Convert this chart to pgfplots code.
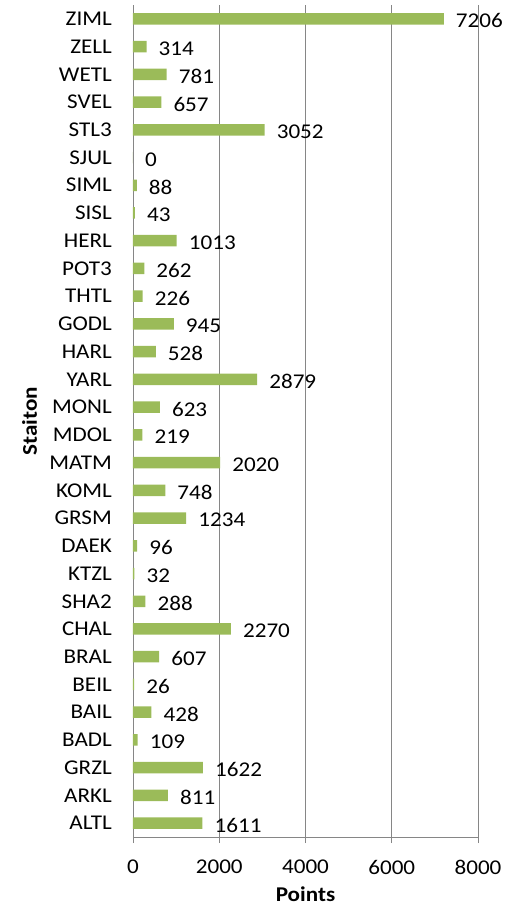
\documentclass[border=0pt]{standalone}
\usepackage{fontspec}
\setmainfont{Carlito}[FakeStretch=1.1]
\usepackage{pgfplots}
\pgfplotsset{compat=1.18}
\definecolor{barg}{HTML}{9BBB59}
\definecolor{gridg}{HTML}{868686}

\begin{document}
\begin{tikzpicture}
\begin{axis}[
  scale only axis, width=345pt, height=832pt,
  xbar, bar width=11.5pt, clip=false,
  xmin=0, xmax=8000, ymin=-0.5, ymax=29.5,
  xtick={0,2000,...,8000},
  ytick={0,...,29},
  yticklabels={ALTL,ARKL,GRZL,BADL,BAIL,BEIL,BRAL,CHAL,SHA2,KTZL,DAEK,GRSM,KOML,MATM,MDOL,MONL,YARL,HARL,GODL,THTL,POT3,HERL,SISL,SIML,SJUL,STL3,SVEL,WETL,ZELL,ZIML},
  axis lines*=left,
  axis line style={gridg, line width=0.8pt},
  xmajorgrids, major grid style={gridg, line width=0.8pt},
  xtick align=outside, major tick length=6pt,
  xtick style={gridg, line width=0.8pt},
  ytick style={draw=none},
  font=\fontsize{21}{25}\selectfont,
  tick label style={font=\fontsize{21}{25}\selectfont, text=black},
  /pgf/number format/1000 sep={},
  /pgf/number format/assume math mode=true,
  xticklabel style={anchor=north, inner sep=0pt, yshift=-17pt},
  yticklabel style={anchor=east, inner sep=0pt, xshift=-15pt},
  xlabel={\bfseries Points},
  ylabel={\bfseries Staiton},
  x label style={at={(axis description cs:0.5,-0.0775)}, anchor=base},
  y label style={at={(axis description cs:-0.2783,0.5)}, anchor=base, rotate=0},
  nodes near coords,
  every node near coord/.append style={font=\fontsize{21}{25}\selectfont, text=black, anchor=west, inner sep=0pt, xshift=12pt, yshift=-2pt},
]
\addplot[draw=none, fill=barg] coordinates {
(1611,0) (811,1) (1622,2) (109,3) (428,4) (26,5) (607,6) (2270,7) (288,8) (32,9)
(96,10) (1234,11) (748,12) (2020,13) (219,14) (623,15) (2879,16) (528,17) (945,18) (226,19)
(262,20) (1013,21) (43,22) (88,23) (0,24) (3052,25) (657,26) (781,27) (314,28) (7206,29)
};
\end{axis}
\pgfresetboundingbox
\path ([shift={(-133pt,-69pt)}]current axis.south west) rectangle ([shift={(41pt,5pt)}]current axis.north east);
\end{tikzpicture}
\end{document}
